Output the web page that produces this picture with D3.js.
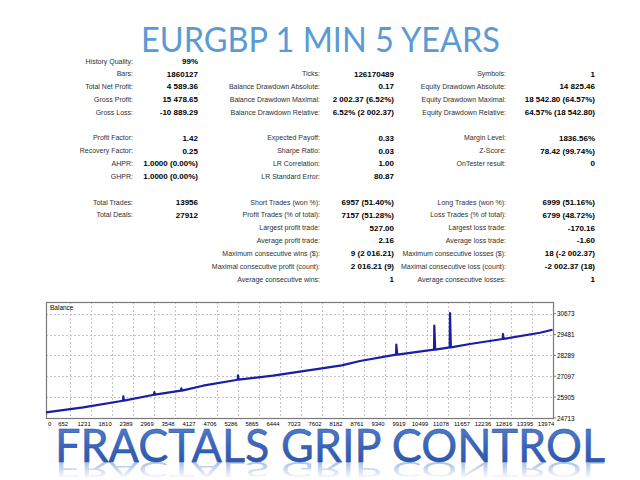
<!DOCTYPE html>
<html>
<head>
<meta charset="utf-8">
<script src="https://cdnjs.cloudflare.com/ajax/libs/d3/7.8.5/d3.min.js"></script>
<style>
  body { margin: 0; background: #fff; }
</style>
</head>
<body>
<div id="chart"></div>
<script>
let chart_width = 640;
let chart_height = 480;

// report table, 18 rows per column ("" = empty row)
let col1_labels = ["History Quality:", "Bars:", "Total Net Profit:", "Gross Profit:", "Gross Loss:", "",
  "Profit Factor:", "Recovery Factor:", "AHPR:", "GHPR:", "", "Total Trades:", "Total Deals:", "", "", "", "", ""];
let col1_values = ["99%", "1860127", "4 589.36", "15 478.65", "-10 889.29", "",
  "1.42", "0.25", "1.0000 (0.00%)", "1.0000 (0.00%)", "", "13956", "27912", "", "", "", "", ""];

let col2_labels = ["", "Ticks:", "Balance Drawdown Absolute:", "Balance Drawdown Maximal:", "Balance Drawdown Relative:", "",
  "Expected Payoff:", "Sharpe Ratio:", "LR Correlation:", "LR Standard Error:", "",
  "Short Trades (won %):", "Profit Trades (% of total):", "Largest profit trade:", "Average profit trade:",
  "Maximum consecutive wins ($):", "Maximal consecutive profit (count):", "Average consecutive wins:"];
let col2_values = ["", "126170489", "0.17", "2 002.37 (6.52%)", "6.52% (2 002.37)", "",
  "0.33", "0.03", "1.00", "80.87", "",
  "6957 (51.40%)", "7157 (51.28%)", "527.00", "2.16", "9 (2 016.21)", "2 016.21 (9)", "1"];

let col3_labels = ["", "Symbols:", "Equity Drawdown Absolute:", "Equity Drawdown Maximal:", "Equity Drawdown Relative:", "",
  "Margin Level:", "Z-Score:", "OnTester result:", "", "",
  "Long Trades (won %):", "Loss Trades (% of total):", "Largest loss trade:", "Average loss trade:",
  "Maximum consecutive losses ($):", "Maximal consecutive loss (count):", "Average consecutive losses:"];
let col3_values = ["", "1", "14 825.46", "18 542.80 (64.57%)", "64.57% (18 542.80)", "",
  "1836.56%", "78.42 (99.74%)", "0", "", "",
  "6999 (51.16%)", "6799 (48.72%)", "-170.16", "-1.60", "18 (-2 002.37)", "-2 002.37 (18)", "1"];

// balance curve (trade number / balance)
let trades = [0, 1029, 2124, 2133, 2150, 2980, 2988, 3005, 3725, 3733, 3750, 4332, 5289, 5297, 5314,
  6263, 7560, 8158, 8663, 9657, 9665, 9690, 10705, 10713, 10738, 11138, 11146, 11170, 11698,
  12600, 12608, 12625, 13629, 13974];
let balance = [25033, 25319, 25701, 25947, 25705, 26044, 26199, 26048, 26273, 26404, 26276, 26559, 26901, 27147, 26905,
  27130, 27530, 27719, 27970, 28330, 28901, 28334, 28616, 29987, 28620, 28747, 30713, 28752, 28941,
  29227, 29513, 29231, 29587, 29758];

let x_ticks = [0, 652, 1231, 1810, 2389, 2969, 3548, 4127, 4706, 5286, 5865, 6444, 7023, 7602,
  8182, 8761, 9340, 9919, 10499, 11078, 11657, 12236, 12816, 13395, 13974];
let y_ticks = [24713, 25905, 27097, 28289, 29481, 30673];

let title_top = "EURGBP 1 MIN 5 YEARS";
let title_bottom = "FRACTALS GRIP CONTROL";

let svg = d3
  .select("#chart")
  .append("svg")
  .attr("width", chart_width)
  .attr("height", chart_height)
  .style("font-family", "'Liberation Sans', Arial, sans-serif");

let defs = svg.append("defs");

// top title
svg
  .append("text")
  .attr("x", 141)
  .attr("y", 52)
  .attr("textLength", 359)
  .attr("lengthAdjust", "spacingAndGlyphs")
  .style("font-family", "Lato, 'Open Sans', sans-serif")
  .style("font-size", "34px")
  .attr("fill", "#5b9bd5")
  .text(title_top);

// report table
let row_y = d3.scaleLinear().domain([0, 17]).range([61, 279]);

let columns = [
  { labels: col1_labels, values: col1_values, lx: 133, vx: 198 },
  { labels: col2_labels, values: col2_values, lx: 320, vx: 394 },
  { labels: col3_labels, values: col3_values, lx: 506, vx: 595 },
];

columns.forEach(function (c) {
  let g = svg.append("g");
  g.selectAll("text.lbl")
    .data(c.labels)
    .enter()
    .append("text")
    .attr("class", "lbl")
    .attr("x", c.lx)
    .attr("y", function (d, i) { return row_y(i) + 2.5; })
    .attr("text-anchor", "end")
    .style("font-size", "7px")
    .attr("fill", "#303030")
    .text(function (d) { return d; });
  g.selectAll("text.val")
    .data(c.values)
    .enter()
    .append("text")
    .attr("class", "val")
    .attr("x", c.vx)
    .attr("y", function (d, i) { return row_y(i) + 2.8; })
    .attr("text-anchor", "end")
    .style("font-size", "8px")
    .style("font-weight", "bold")
    .attr("fill", "#000")
    .text(function (d) { return d; });
});

// balance chart
let plot = { left: 46, right: 553, top: 302, bottom: 418 };

let x = d3.scaleLinear().domain([0, 13974]).range([plot.left, plot.right - 0.5]);
let y = d3.scaleLinear().domain([24713, 31342]).range([plot.bottom, plot.top]);

let chart = svg.append("g");

// grid
chart
  .selectAll("line.vgrid")
  .data(x_ticks.slice(1, -1))
  .enter()
  .append("line")
  .attr("x1", function (d) { return Math.round(x(d)) + 0.5; })
  .attr("x2", function (d) { return Math.round(x(d)) + 0.5; })
  .attr("y1", plot.top)
  .attr("y2", plot.bottom)
  .attr("stroke", "#c4c4c4")
  .attr("stroke-dasharray", "2,2");

chart
  .selectAll("line.hgrid")
  .data(y_ticks.slice(1))
  .enter()
  .append("line")
  .attr("x1", plot.left)
  .attr("x2", plot.right)
  .attr("y1", function (d) { return Math.round(y(d)) + 0.5; })
  .attr("y2", function (d) { return Math.round(y(d)) + 0.5; })
  .attr("stroke", "#c4c4c4")
  .attr("stroke-dasharray", "2,2");

// frame
chart
  .append("rect")
  .attr("x", plot.left + 0.5)
  .attr("y", plot.top + 0.5)
  .attr("width", plot.right - plot.left)
  .attr("height", plot.bottom - plot.top)
  .attr("fill", "none")
  .attr("stroke", "#7a7a7a")
  .attr("stroke-width", 1.2);

chart
  .append("text")
  .attr("x", plot.left + 4)
  .attr("y", plot.top + 8)
  .style("font-size", "6.5px")
  .attr("fill", "#000")
  .text("Balance");

// the balance line
let line = d3
  .line()
  .x(function (d, i) { return x(trades[i]); })
  .y(function (d) { return y(d); });

chart
  .append("path")
  .datum(balance)
  .attr("d", line)
  .attr("fill", "none")
  .attr("stroke", "#1c1ca8")
  .attr("stroke-width", 2.2)
  .attr("stroke-linejoin", "round");

// right axis
let y_axis = chart.append("g").attr("transform", "translate(" + plot.right + ",0)");
y_axis
  .selectAll("line")
  .data(y_ticks)
  .enter()
  .append("line")
  .attr("x1", 0)
  .attr("x2", 3)
  .attr("y1", function (d) { return y(d); })
  .attr("y2", function (d) { return y(d); })
  .attr("stroke", "#7a7a7a");
y_axis
  .selectAll("text")
  .data(y_ticks)
  .enter()
  .append("text")
  .attr("x", 4)
  .attr("y", function (d) { return y(d) + 2.5; })
  .style("font-size", "6.3px")
  .attr("fill", "#000")
  .text(function (d) { return d; });

// bottom axis labels
chart
  .selectAll("text.xlab")
  .data(x_ticks)
  .enter()
  .append("text")
  .attr("class", "xlab")
  .attr("x", function (d, i) { return i == 0 ? x(d) + 2 : x(d) - 6.5; })
  .attr("y", plot.bottom + 8)
  .attr("text-anchor", function (d, i) { return i == 0 ? "start" : "middle"; })
  .style("font-size", "5.9px")
  .attr("fill", "#000")
  .text(function (d) { return d; });

// bottom title with reflection
let grad = defs
  .append("linearGradient")
  .attr("id", "blue_grad")
  .attr("x1", 0).attr("y1", 0).attr("x2", 0).attr("y2", 1);
grad.append("stop").attr("offset", "0%").attr("stop-color", "#5a8ad6");
grad.append("stop").attr("offset", "55%").attr("stop-color", "#3864bd");
grad.append("stop").attr("offset", "100%").attr("stop-color", "#2850a2");

let fade = defs
  .append("linearGradient")
  .attr("id", "fade_grad")
  .attr("x1", 0).attr("y1", 0).attr("x2", 0).attr("y2", 1);
fade.append("stop").attr("offset", "0%").attr("stop-color", "#fff").attr("stop-opacity", 0.5);
fade.append("stop").attr("offset", "100%").attr("stop-color", "#fff").attr("stop-opacity", 0);

let mask = defs.append("mask").attr("id", "fade_mask");
mask
  .append("rect")
  .attr("x", 0)
  .attr("y", 462)
  .attr("width", chart_width)
  .attr("height", 17)
  .attr("fill", "url(#fade_grad)");

// reflection, squashed so it stays inside the picture
svg
  .append("g")
  .attr("mask", "url(#fade_mask)")
  .append("text")
  .attr("transform", "translate(0,462) scale(1,-0.45) translate(0,-462)")
  .attr("x", 55)
  .attr("y", 462)
  .attr("textLength", 550)
  .attr("lengthAdjust", "spacingAndGlyphs")
  .style("font-family", "Lato, 'Open Sans', sans-serif")
  .style("font-size", "47px")
  .attr("fill", "#4f7fd0")
  .text(title_bottom);

svg
  .append("text")
  .attr("x", 55)
  .attr("y", 462)
  .attr("textLength", 550)
  .attr("lengthAdjust", "spacingAndGlyphs")
  .style("font-family", "Lato, 'Open Sans', sans-serif")
  .style("font-size", "47px")
  .attr("fill", "url(#blue_grad)")
  .attr("stroke", "#2a4f9c")
  .attr("stroke-width", 0.5)
  .text(title_bottom);
</script>
</body>
</html>
